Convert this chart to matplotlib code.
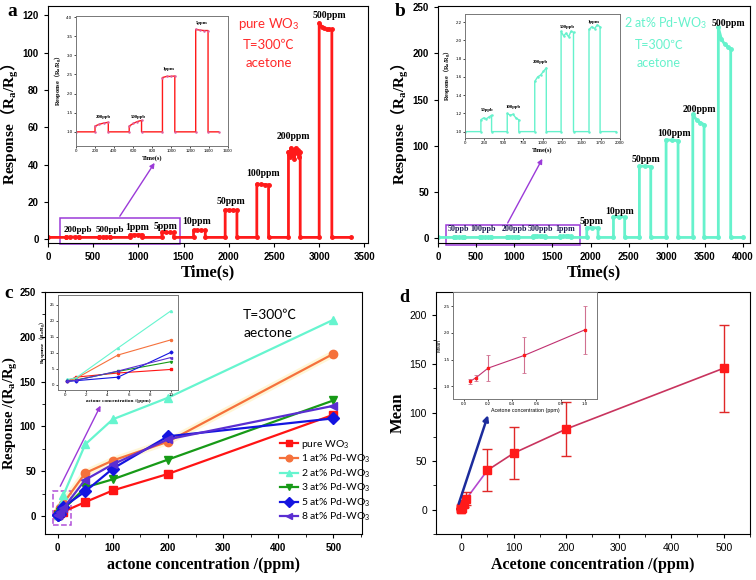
import numpy as np
import matplotlib as mpl
import matplotlib.pyplot as plt
from matplotlib.patches import Rectangle

mpl.rcParams['font.family'] = ['Liberation Sans', 'DejaVu Sans']
mpl.rcParams['mathtext.fontset'] = 'custom'
mpl.rcParams['mathtext.rm'] = 'Liberation Serif'
mpl.rcParams['mathtext.bf'] = 'Liberation Serif:bold'
mpl.rcParams['mathtext.it'] = 'Liberation Serif:italic'
mpl.rcParams['mathtext.sf'] = 'Lato'
mpl.rcParams['mathtext.cal'] = 'Noto Sans CJK SC:bold'   # only used for the wide brackets

SERIF = ['Liberation Serif', 'Noto Sans CJK SC']
CALIB = ['Lato', 'Noto Sans CJK SC']

# ---------------- data ----------------
# panel a : pure WO3 response vs time (pulse on/off times and plateau readings)
a_on = [200, 560, 910, 1260, 1610, 1960, 2310, 2660, 3000]
a_off = [340, 690, 1040, 1390, 1740, 2090, 2440, 2790, 3140]
a_plateau = [
    [1.15, 1.2, 1.23, 1.25],
    [1.15, 1.22, 1.27, 1.3],
    [2.42, 2.45, 2.45, 2.46],
    [3.68, 3.66, 3.65, 3.65],
    [4.8, 4.9, 4.85, 4.8],
    [15.8, 15.7, 15.6, 15.6],
    [29.6, 29.4, 29.3, 29.2],
    [47, 44, 49, 45, 48, 43, 49, 46, 48, 44, 47],
    [116, 114, 113, 112.5, 112.5, 112.5],
]
a_conc = ['200ppb', '500ppb', '1ppm', '5ppm', '10ppm', '50ppm', '100ppm', '200ppm', '500ppm']
a_end = 3350

# panel b : 2 at% Pd-WO3 response vs time
b_on = [205, 545, 900, 1240, 1600, 1950, 2300, 2640, 2990, 3340, 3675]
b_off = [343, 694, 1049, 1400, 1743, 2098, 2447, 2789, 3147, 3488, 3837]
b_plateau = [
    [1.13, 1.15, 1.14, 1.16, 1.18],
    [1.2, 1.18, 1.19, 1.15, 1.13],
    [1.55, 1.6, 1.62, 1.66, 1.70],
    [2.1, 2.05, 2.08, 2.04, 2.1, 2.09],
    [2.12, 2.15, 2.13, 2.17, 2.15],
    [11.5, 11.5, 11.3],
    [23.5, 23.2, 23.0],
    [78, 78, 77.5],
    [106.5, 106, 105.5],
    [134, 128, 125, 123],
    [228, 215, 210, 207, 205],
]
b_conc = ['50ppb', '100ppb', '200ppb', '500ppb', '1ppm', '5ppm', '10ppm',
          '50ppm', '100ppm', '200ppm', '500ppm']
b_end = 4000

# panel c : response vs concentration for Pd loadings
c_x = [0.2, 1, 5, 10, 50, 100, 200, 500]
c_series = {
    'pure WO$_\\mathsf{3}$':      [1.25, 2.4, 3.7, 4.8, 15.6, 28.6, 47, 113],
    '1 at% Pd-WO$_\\mathsf{3}$':  [1.2, 2.0, 9.3, 14, 48, 62, 83, 181],
    '2 at% Pd-WO$_\\mathsf{3}$':  [1.7, 2.15, 11.5, 23, 80, 108, 132, 219],
    '3 at% Pd-WO$_\\mathsf{3}$':  [1.1, 1.5, 4.2, 7.2, 32, 41, 63, 129],
    '5 at% Pd-WO$_\\mathsf{3}$':  [1.1, 1.3, 2.4, 10.1, 27.5, 53, 89, 109],
    '8 at% Pd-WO$_\\mathsf{3}$':  [1.1, 1.4, 4.3, 8.5, 40.5, 57.7, 85.6, 123],
}
c_colors = ['#ff1414', '#f5713c', '#66f5cf', '#179a17', '#1414e0', '#5a2ed2']
c_markers = ['s', 'o', '^', 'v', 'D', '<']

# panel d : mean response with error bars
d_x = [0.05, 0.1, 0.2, 0.5, 1, 5, 10, 50, 100, 200, 500]
d_mean = [1.09, 1.16, 1.34, 1.58, 2.06, 5.5, 11.4, 40.6, 58.2, 83, 145.6]
d_err = [0.05, 0.055, 0.24, 0.34, 0.45, 3.0, 6.7, 21.7, 27, 28, 44.7]


def trace(on, off, plateau, t_end, base=1.0):
    t, y = [0.0], [base]
    for t0, t1, vals in zip(on, off, plateau):
        t += [t0] + list(np.linspace(t0, t1, len(vals))) + [t1]
        y += [base] + list(vals) + [base]
    t.append(t_end)
    y.append(base)
    return t, y


W, H = 756, 580
fig = plt.figure(figsize=(W / 100, H / 100), dpi=100)


def px_axes(l, t, r, b):
    return fig.add_axes([l / W, 1 - b / H, (r - l) / W, (b - t) / H])


def bold_ticks(ax, size=7, bold=True):
    ax.tick_params(labelsize=size, direction='out', length=3, width=0.8)
    for lb in ax.get_xticklabels() + ax.get_yticklabels():
        lb.set_fontweight('bold' if bold else 'normal')


def inset_style(ax):
    ax.tick_params(labelsize=3.2, direction='out', length=1.5, width=0.5, pad=1)
    for s in ax.spines.values():
        s.set_color('#777777')
        s.set_linewidth(0.7)


YLAB = 'Response$\\mathcal{\uff08}\\mathbf{R_a/R_g}\\mathcal{\uff09}$'
PURPLE = '#9b3ad8'

# ================= panel a =================
red = '#ff1a1a'
ax = px_axes(48, 6, 368, 243)
t, y = trace(a_on, a_off, a_plateau, a_end)
ax.plot(t, y, '-o', color=red, lw=2, ms=2.5)
ax.set_xlim(0, 3540)
ax.set_ylim(-2, 125)
ax.set_xticks(np.arange(0, 3501, 500))
ax.set_yticks(np.arange(0, 121, 20))
bold_ticks(ax)
ax.set_xlabel('Time(s)', family=SERIF, weight='bold', fontsize=12, labelpad=2)
ax.set_ylabel(YLAB, family=SERIF, weight='bold', fontsize=11, labelpad=1)
a_lab_pos = [(333, 4.8), (685, 4.8), (989, 6.1), (1304, 7.0), (1648, 9.7),
             (2019, 20.4), (2381, 35), (2715, 55), (3111, 120)]
for i, ((lx, ly), name) in enumerate(zip(a_lab_pos, a_conc)):
    ax.text(lx, ly, name, family=SERIF, weight='bold', fontsize=6.5 if i < 2 else 7,
            ha='center', va='center')
ax.add_patch(Rectangle((130, -2.7), 1333, 14.2, fill=False, ec=PURPLE, lw=1.1, clip_on=False))
ax.annotate('', xy=(1196, 42.2), xytext=(778, 11.1),
            arrowprops=dict(arrowstyle='-|>', color=PURPLE, lw=1, mutation_scale=7))
for txt, yy in [('pure WO$_\\mathsf{3}$', 0.924), ('T=300\u2103', 0.835), ('acetone', 0.76)]:
    ax.text(0.69, yy, txt, transform=ax.transAxes, color='#ff2a2a', family=CALIB,
            fontsize=9.5, ha='center', va='center')
fig.text(12 / W, 1 - 12 / H, 'a', family=SERIF, weight='bold', fontsize=14, ha='center', va='center')

ia = px_axes(76, 16, 228, 146)
n_in = 4
t, y = trace(a_on[:n_in], a_off[:n_in], a_plateau[:n_in], 1500)
ia.plot(t, y, '-o', color=red, lw=1.0, ms=0.8, mfc='#e060a0', mec='#e060a0')
ia.set_xlim(0, 1600)
ia.set_ylim(0.63, 4.03)
ia.set_xticks(np.arange(0, 1601, 200))
ia.set_yticks(np.arange(1.0, 4.01, 0.5))
inset_style(ia)
ia.set_xlabel('Time(s)', family=SERIF, weight='bold', fontsize=4.5, labelpad=1)
ia.set_ylabel(YLAB, family=SERIF, weight='bold', fontsize=4.5, labelpad=1)
for (lx, ly), name in zip([(284, 1.38), (653, 1.38), (970, 2.64), (1326, 3.85)], a_conc[:n_in]):
    ia.text(lx, ly, name, family=SERIF, weight='bold', fontsize=3.5, ha='center', va='center')

# ================= panel b =================
cyan = '#66f2cc'
ax = px_axes(438, 6, 750, 243)
t, y = trace(b_on, b_off, b_plateau, b_end)
ax.plot(t, y, '-o', color=cyan, lw=2, ms=2.5)
ax.set_xlim(0, 4090)
ax.set_ylim(-5, 251)
ax.set_xticks(np.arange(0, 4001, 500))
ax.set_yticks(np.arange(0, 251, 50))
bold_ticks(ax)
ax.set_xlabel('Time(s)', family=SERIF, weight='bold', fontsize=12, labelpad=2)
ax.set_ylabel(YLAB, family=SERIF, weight='bold', fontsize=11, labelpad=1)
b_lab_pos = [(262, 9.7), (594, 9.7), (1005, 9.7), (1342, 9.7), (1670, 9.7),
             (2010, 18.6), (2382, 29.4), (2732, 85), (3090, 113.7), (3431, 139.5), (3802, 232)]
for i, ((lx, ly), name) in enumerate(zip(b_lab_pos, b_conc)):
    ax.text(lx, ly, name, family=SERIF, weight='bold', fontsize=5.8 if i < 5 else 7,
            ha='center', va='center', color='#1a1a50' if i < 5 else 'black')
ax.add_patch(Rectangle((109, -7.2), 1748, 21.2, fill=False, ec=PURPLE, lw=1.1, clip_on=False))
ax.annotate('', xy=(1385, 88.6), xytext=(896, 14),
            arrowprops=dict(arrowstyle='-|>', color=PURPLE, lw=1, mutation_scale=7))
for txt, xx, yy in [('2 at% Pd-WO$_\\mathsf{3}$', 0.73, 0.928), ('T=300\u2103', 0.708, 0.835),
                    ('acetone', 0.708, 0.76)]:
    ax.text(xx, yy, txt, transform=ax.transAxes, color=cyan, family=CALIB,
            fontsize=9, ha='center', va='center')
fig.text(400 / W, 1 - 12 / H, 'b', family=SERIF, weight='bold', fontsize=14, ha='center', va='center')

ib = px_axes(465, 14, 620, 138)
n_in = 5
t, y = trace(b_on[:n_in], b_off[:n_in], b_plateau[:n_in], 1950)
ib.plot(t, y, '-o', color=cyan, lw=1.0, ms=0.8)
ib.set_xlim(0, 2000)
ib.set_ylim(0.93, 2.29)
ib.set_xticks(np.arange(0, 2001, 250))
ib.set_yticks(np.round(np.arange(1.0, 2.21, 0.2), 1))
inset_style(ib)
ib.set_xlabel('Time(s)', family=SERIF, weight='bold', fontsize=4.5, labelpad=1)
ib.set_ylabel(YLAB, family=SERIF, weight='bold', fontsize=4.5, labelpad=1)
for (lx, ly), name in zip([(280, 1.24), (623, 1.27), (976, 1.76), (1316, 2.15), (1664, 2.2)], b_conc[:n_in]):
    ib.text(lx, ly, name, family=SERIF, weight='bold', fontsize=3.5, ha='center', va='center')

# ================= panel c =================
ax = px_axes(45, 292, 362, 534)
ic = px_axes(58, 295, 178, 390)
for (name, vals), col, mk in zip(c_series.items(), c_colors, c_markers):
    if mk == 'o':
        ax.plot(c_x, vals, color='#fff6d6', lw=5, zorder=1, solid_capstyle='round')
    ax.plot(c_x, vals, color=col, marker=mk, lw=1.6, ms=6, label=name, zorder=2)
    ic.plot(c_x[:4], vals[:4], color=col, marker=mk, lw=0.8, ms=1.5)
ax.set_xlim(-23, 552)
ax.set_ylim(-20, 250)
ax.set_xticks(np.arange(0, 501, 100))
ax.set_yticks(np.arange(0, 251, 50))
ax.xaxis.set_minor_locator(mpl.ticker.MultipleLocator(50))
ax.yaxis.set_minor_locator(mpl.ticker.MultipleLocator(25))
ax.tick_params(which='minor', direction='out', length=2)
bold_ticks(ax)
ax.set_xlabel('actone concentration /(ppm)', family=SERIF, weight='bold', fontsize=11.5, labelpad=3)
ax.set_ylabel('Response /($\\mathbf{R_a/R_g}$)', family=SERIF, weight='bold', fontsize=10.5, labelpad=0)
ax.legend(loc='upper left', bbox_to_anchor=(0.725, 0.42), frameon=False, borderpad=0,
          prop=dict(family='Lato', size=7.5), handlelength=1.7, handletextpad=0.3,
          labelspacing=0.2, markerscale=0.8)
ax.text(0.625, 0.905, 'T=300\u2103', transform=ax.transAxes, family=CALIB, fontsize=10, va='center')
ax.text(0.625, 0.83, 'aectone', transform=ax.transAxes, family=CALIB, fontsize=10, va='center')
ax.add_patch(Rectangle((-9, -10.4), 32.6, 38.3, fill=False, ec='#b050d8', lw=1.1, ls='--'))
ax.annotate('', xy=(80, 126), xytext=(2.4, 30.5),
            arrowprops=dict(arrowstyle='-|>', color=PURPLE, lw=1, mutation_scale=7))
fig.text(9 / W, 1 - 293 / H, 'c', family=SERIF, weight='bold', fontsize=14, ha='center', va='center')
ic.set_xlim(-0.7, 10.7)
ic.set_ylim(-1.6, 28)
ic.set_xticks(np.arange(0, 11, 2))
ic.set_yticks(np.arange(0, 26, 5))
inset_style(ic)
ic.set_xlabel('actone concentration /(ppm)', family=SERIF, weight='bold', fontsize=3.8, labelpad=1)
ic.set_ylabel(YLAB, family=SERIF, weight='bold', fontsize=3.8, labelpad=1)

# ================= panel d =================
ax = px_axes(436, 292, 750, 534)
ax.plot(d_x[:8], d_mean[:8], color='#b448d0', lw=1.2)
ax.plot(d_x[7:], d_mean[7:], color='#c8345e', lw=1.2)
ax.errorbar(d_x, d_mean, yerr=d_err, fmt='s', color='#ff1a1a', ms=6, ecolor='#e02828',
            elinewidth=1, capsize=3.5, capthick=1)
ax.annotate('', xy=(52.7, 100), xytext=(-6.4, 3.4),
            arrowprops=dict(arrowstyle='-|>', color='#1c2c9c', lw=1.8, mutation_scale=8))
ax.set_xlim(-48, 550)
ax.set_ylim(-25, 224)
ax.set_xticks(np.arange(0, 501, 100))
ax.set_yticks(np.arange(0, 201, 50))
ax.xaxis.set_minor_locator(mpl.ticker.MultipleLocator(50))
ax.yaxis.set_minor_locator(mpl.ticker.MultipleLocator(25))
ax.tick_params(which='minor', direction='out', length=2)
bold_ticks(ax, size=7.5, bold=False)
ax.set_xlabel('Acetone concentration /(ppm)', family=SERIF, weight='bold', fontsize=11.5, labelpad=3)
ax.set_ylabel('Mean', family=SERIF, weight='bold', fontsize=12, labelpad=3)
fig.text(404 / W, 1 - 298 / H, 'd', family=SERIF, weight='bold', fontsize=13, ha='center', va='center')

idd = px_axes(453, 292, 597, 399)
idd.plot(d_x[:5], d_mean[:5], color='#c03070', lw=0.8)
idd.errorbar(d_x[:5], d_mean[:5], yerr=d_err[:5], fmt='s', color='#ff1a1a', ms=2,
             ecolor='#d07090', elinewidth=0.8, capsize=1.5, capthick=0.6)
idd.set_xlim(-0.09, 1.1)
idd.set_ylim(0.76, 2.77)
idd.set_xticks(np.round(np.arange(0, 1.01, 0.2), 1))
idd.set_yticks(np.arange(1.0, 2.51, 0.5))
inset_style(idd)
idd.set_xlabel('Acetone concentration (ppm)', fontsize=3.8, labelpad=1)
idd.set_ylabel('Mean', fontsize=3.8, labelpad=1)

fig.savefig('out.png', dpi=100)
